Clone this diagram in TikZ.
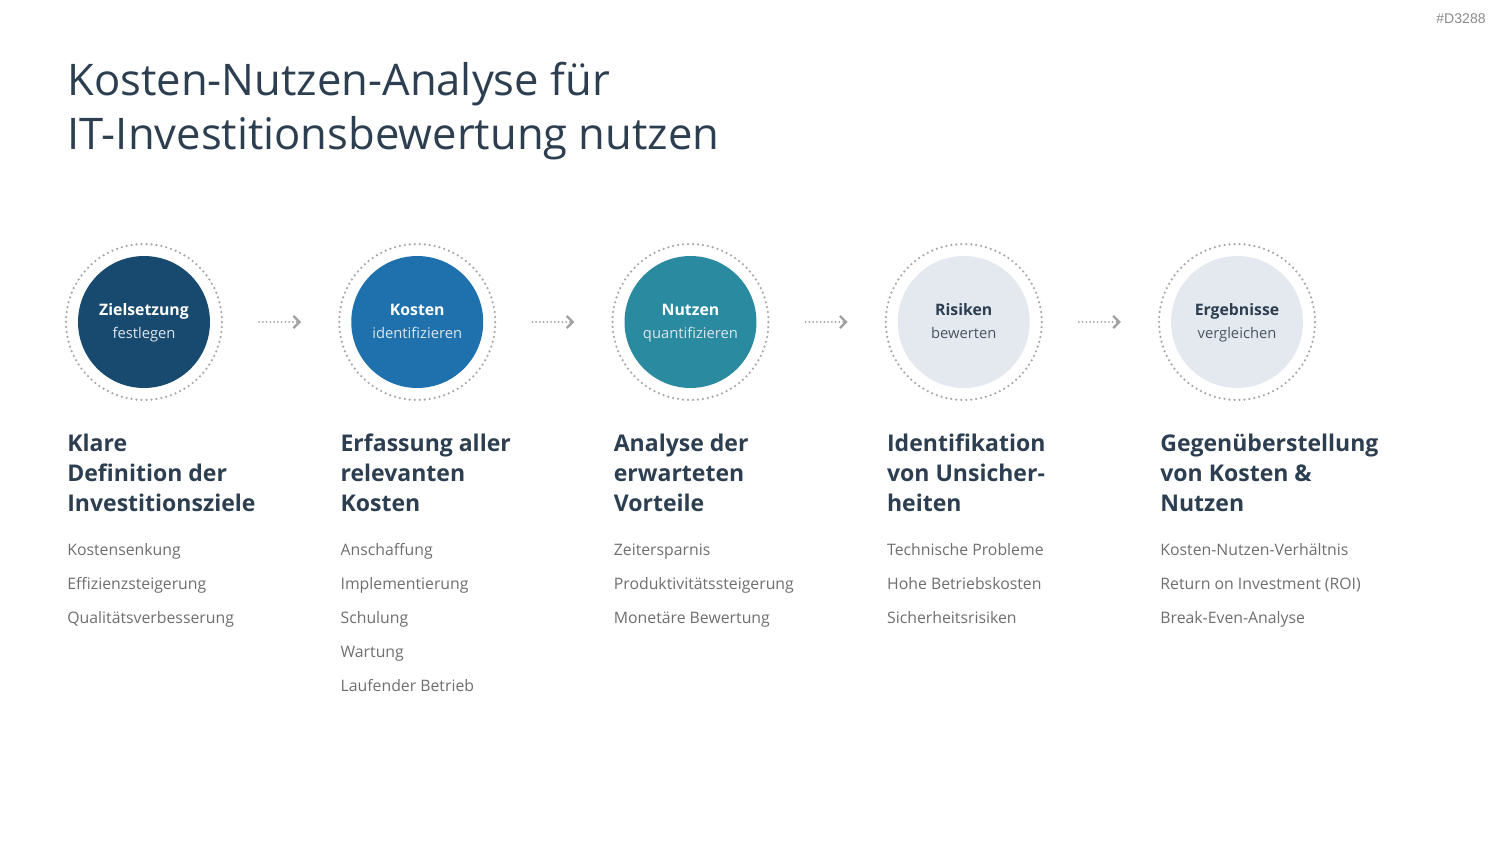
\documentclass[tikz,border=0pt]{standalone}
\usepackage{fontspec}
\setmainfont{Open Sans}
\newfontfamily\tagfont{Liberation Sans}
\usetikzlibrary{arrows.meta}
\definecolor{inkdark}{HTML}{2C3E50}
\definecolor{itemgray}{HTML}{6E6E6E}
\definecolor{ringgray}{HTML}{A8A8A8}
\definecolor{arrowgray}{HTML}{A0A0A0}
\definecolor{taggray}{HTML}{8A8A8A}
\definecolor{stepA}{HTML}{174A6E}
\definecolor{stepB}{HTML}{1F71AD}
\definecolor{stepC}{HTML}{2A8A9F}
\definecolor{stepD}{HTML}{E4E9F0}
\definecolor{softwhite}{HTML}{DCE6EE}
\definecolor{softdark}{HTML}{4A5561}
\begin{document}
\begin{tikzpicture}[x=0.02cm, y=-0.02cm,
    ring/.style={circle, minimum size=3.12cm, inner sep=0pt, draw=ringgray, line width=0.05cm,
      dash pattern=on 0pt off 0.1cm, line cap=round},
    disc/.style={circle, minimum size=2.64cm, inner sep=0pt},
    flow/.style={draw=arrowgray, line width=0.04cm, dash pattern=on 0pt off 0.075cm, line cap=round,
      -{Straight Barb[length=0.12cm, width=0.24cm, line width=0.045cm]}, shorten <=0.72cm, shorten >=0.74cm},
    head/.style={anchor=north west, inner sep=0pt, align=left,
      font=\fontsize{13.1}{17}\selectfont\bfseries, text=inkdark},
    item/.style={anchor=base west, inner sep=0pt, font=\fontsize{9}{11}\selectfont, text=itemgray}]
  \useasboundingbox (0,0) rectangle (1500,844);
  \node[anchor=base east, inner sep=0pt, font=\tagfont\fontsize{8}{10}\selectfont, text=taggray] (tag) at (1486,24) {\#D3288};
  \node[anchor=base west, inner sep=0pt, font=\fontsize{24.8}{30}\selectfont, text=inkdark] (title1) at (67,96) {Kosten-Nutzen-Analyse für};
  \node[anchor=base west, inner sep=0pt, font=\fontsize{24.8}{30}\selectfont, text=inkdark] (title2) at (67,150) {IT-Investitionsbewertung nutzen};
  \foreach \i/\fc/\tc/\sbc/\ttl/\sbt/\hd/\items in {
      1/stepA/white/softwhite/Zielsetzung/festlegen/{Klare\\Definition der\\Investitionsziele}/{Kostensenkung,Effizienzsteigerung,Qualitätsverbesserung},
      2/stepB/white/softwhite/Kosten/identifizieren/{Erfassung aller\\relevanten\\Kosten}/{Anschaffung,Implementierung,Schulung,Wartung,Laufender Betrieb},
      3/stepC/white/softwhite/Nutzen/quantifizieren/{Analyse der\\erwarteten\\Vorteile}/{Zeitersparnis,Produktivitätssteigerung,Monetäre Bewertung},
      4/stepD/inkdark/softdark/Risiken/bewerten/{Identifikation\\von Unsicher-\\heiten}/{Technische Probleme,Hohe Betriebskosten,Sicherheitsrisiken},
      5/stepD/inkdark/softdark/Ergebnisse/vergleichen/{Gegenüberstellung\\von Kosten \&\\Nutzen}/{Kosten-Nutzen-Verhältnis,Return on Investment (ROI),Break-Even-Analyse}} {
    \pgfmathsetmacro{\cx}{144+(\i-1)*273.25}
    \node[ring] (ring\i) at (\cx,322) {};
    \node[disc, fill=\fc] (step\i) at (\cx,322) {};
    \node[anchor=base, inner sep=0pt, font=\fontsize{9}{11}\selectfont\bfseries, text=\tc] (ttl\i) at (\cx,316) {\ttl};
    \node[anchor=base, inner sep=0pt, font=\fontsize{8.4}{10}\selectfont, text=\sbc] (sbt\i) at (\cx,338) {\sbt};
    \node[head] (head\i) at (\cx-77,434) {\hd};
    \foreach \t [count=\k] in \items
      \node[item] (item\i-\k) at (\cx-77,{555+(\k-1)*34}) {\t};
  }
  \foreach \i [evaluate=\i as \j using int(\i+1)] in {1,...,4}
    \draw[flow] (ring\i) -- (ring\j);
\end{tikzpicture}
\end{document}
